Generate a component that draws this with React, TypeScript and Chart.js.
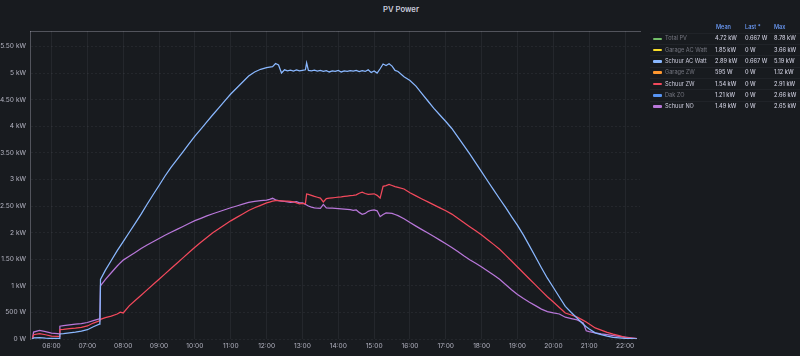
import React, { useEffect, useRef } from "react";
import { Chart, registerables } from "chart.js";

Chart.register(...registerables);

// ---------- DATA ----------
const timeLabels = [
  "05:28", "05:30", "05:40", "05:50", "06:00", "06:10", "06:13", "06:14", "06:20", "06:30", "06:40",
  "06:50", "07:00", "07:10", "07:20", "07:21", "07:22", "07:30", "07:40", "07:50", "07:55", "08:00",
  "08:10", "08:20", "08:30", "08:40", "08:50", "09:00", "09:10", "09:20", "09:30", "09:40", "09:50",
  "10:00", "10:10", "10:20", "10:30", "10:40", "10:50", "11:00", "11:10", "11:20", "11:30", "11:40", "11:50",
  "12:00", "12:05", "12:10", "12:15", "12:20", "12:25", "12:30", "12:35", "12:40", "12:45", "12:50", "12:55",
  "13:00", "13:05", "13:07",
  "13:10", "13:15", "13:20", "13:25", "13:30", "13:35", "13:40", "13:45", "13:50", "13:55",
  "14:00", "14:05", "14:10", "14:15", "14:20", "14:25", "14:30", "14:35", "14:40", "14:45", "14:50", "14:55",
  "15:00", "15:05", "15:10", "15:15", "15:20", "15:25", "15:30", "15:35", "15:40",
  "15:50",
  "16:00", "16:10", "16:20", "16:30", "16:40", "16:50",
  "17:00", "17:10", "17:20", "17:30", "17:40", "17:50",
  "18:00", "18:10", "18:20", "18:30", "18:40", "18:50",
  "19:00", "19:10", "19:20", "19:30", "19:40", "19:50",
  "20:00", "20:10", "20:20", "20:30", "20:40", "20:50", "20:55",
  "21:00", "21:10", "21:20", "21:30", "21:40", "21:50",
  "22:00", "22:10", "22:20",
];

const schuurAcWatt = [
  0, 20, 25, 15, 10, 10, 10, 95, 100, 115, 130,
  150, 175, 230, 280, 290, 1120, 1290, 1475, 1660, 1745, 1830,
  2002, 2173, 2347, 2534, 2712, 2886, 3064, 3227, 3372, 3520, 3667,
  3815, 3947, 4082, 4216, 4345, 4476, 4606, 4719, 4830, 4943, 5020, 5070,
  5100, 5110, 5120, 5180, 5150, 5000, 5060, 5040, 5055, 5035, 5060, 5040,
  5050, 5060, 5190,
  5050, 5040, 5055, 5035, 5050, 5030, 5045, 5020, 5040, 5030,
  5050, 5020, 5040, 5030, 5045, 5035, 5050, 5025, 5045, 5030, 5060, 5010,
  5040, 5000, 5080, 5170, 5140, 5175, 5130, 5050, 5030,
  4930,
  4860, 4753, 4612, 4474, 4334, 4211,
  4088, 3957, 3799, 3641, 3480, 3310,
  3140, 2970, 2804, 2636, 2473, 2300,
  2137, 1952, 1751, 1547, 1340, 1143,
  968, 790, 614, 499, 389, 277, 230,
  189, 115, 84, 55, 30, 20,
  12, 6, 2,
];

const schuurZw = [
  0, 80, 100, 80, 55, 50, 50, 175, 180, 195, 205,
  220, 245, 300, 340, 350, 370, 400, 430, 470, 505, 490,
  623, 722, 823, 924, 1024, 1123, 1224, 1325, 1424, 1525, 1625,
  1724, 1817, 1910, 1996, 2071, 2146, 2221, 2287, 2351, 2416, 2467, 2513,
  2560, 2575, 2590, 2600, 2600, 2595, 2590, 2590, 2588, 2580, 2560, 2540,
  2550, 2545, 2726,
  2720, 2700, 2680, 2665, 2650, 2576, 2640, 2650, 2655, 2660,
  2665, 2670, 2680, 2688, 2694, 2700, 2710, 2740, 2760, 2735, 2720, 2725,
  2730, 2700, 2650, 2870, 2885, 2905, 2885, 2865, 2850,
  2820,
  2750, 2690, 2633, 2578, 2521, 2465,
  2410, 2348, 2269, 2190, 2112, 2034,
  1955, 1868, 1779, 1688, 1577, 1467,
  1354, 1241, 1128, 1017, 904, 795,
  694, 591, 489, 451, 410, 350, 320,
  283, 208, 167, 126, 90, 65,
  32, 15, 5,
];

const schuurNo = [
  0, 130, 160, 140, 110, 100, 95, 240, 250, 265, 280,
  290, 310, 345, 380, 390, 1000, 1118, 1245, 1373, 1430, 1483,
  1556, 1627, 1700, 1767, 1829, 1889, 1950, 2007, 2061, 2116, 2171,
  2225, 2269, 2314, 2355, 2392, 2430, 2467, 2500, 2534, 2568, 2586, 2599,
  2612, 2625, 2645, 2615, 2600, 2592, 2585, 2578, 2570, 2575, 2580, 2560,
  2560, 2530, 2520,
  2500, 2480, 2465, 2458, 2455, 2530, 2465, 2460, 2458, 2455,
  2450, 2445, 2440, 2435, 2430, 2420, 2425, 2380, 2345, 2360, 2400, 2420,
  2425, 2410, 2300, 2340, 2370, 2365, 2360, 2340, 2320,
  2260,
  2190, 2122, 2056, 1992, 1926, 1859,
  1791, 1722, 1643, 1564, 1491, 1423,
  1355, 1280, 1202, 1123, 1025, 926,
  836, 760, 692, 628, 562, 515,
  490, 470, 410, 385, 360, 300, 155,
  140, 115, 95, 80, 65, 50,
  35, 20, 5,
];

const xTickLabels = [
  "06:00", "07:00", "08:00", "09:00", "10:00", "11:00", "12:00", "13:00", "14:00",
  "15:00", "16:00", "17:00", "18:00", "19:00", "20:00", "21:00", "22:00",
];

const yTickValues = [0, 500, 1000, 1500, 2000, 2500, 3000, 3500, 4000, 4500, 5000, 5500];
const yTickLabels = [
  "0 W", "500 W", "1 kW", "1.50 kW", "2 kW", "2.50 kW", "3 kW", "3.50 kW", "4 kW", "4.50 kW", "5 kW", "5.50 kW",
];

const legendNames = ["Total PV", "Garage AC Watt", "Schuur AC Watt", "Garage ZW", "Schuur ZW", "Dak ZO", "Schuur NO"];
const legendColors = ["#73BF69", "#FADE2A", "#8AB8FF", "#FF9830", "#F2495C", "#5794F2", "#B877D9"];
const legendVisible = [false, false, true, false, true, false, true];
const meanValues = ["4.72 kW", "1.85 kW", "2.89 kW", "595 W", "1.54 kW", "1.21 kW", "1.49 kW"];
const lastValues = ["0.667 W", "0 W", "0.667 W", "0 W", "0 W", "0 W", "0 W"];
const maxValues = ["8.78 kW", "3.66 kW", "5.19 kW", "1.12 kW", "2.91 kW", "2.66 kW", "2.65 kW"];
const legendHeaders = ["Mean", "Last *", "Max"];

const chartTitle = "PV Power";

// ---------- HELPERS ----------
const toMin = (s: string) => parseInt(s.slice(0, 2), 10) * 60 + parseInt(s.slice(3), 10);
const times = timeLabels.map(toMin);
const xTickValues = xTickLabels.map(toMin);

const X_MIN = 324;
const X_MAX = 1345;
const Y_MAX = 5790;

const FONT = "Inter, 'Noto Sans', 'DejaVu Sans', sans-serif";
const TEXT = "#ccccdc";
const AXIS_TEXT = "rgba(204,204,220,0.85)";
const GRID = "rgba(204,204,220,0.07)";
const DASH = "rgba(204,204,220,0.32)";
const BG = "#181b1f";
const LEGEND_FONT = 5.6;

const plotted = [
  { name: "Schuur AC Watt", values: schuurAcWatt, color: legendColors[2] },
  { name: "Schuur ZW", values: schuurZw, color: legendColors[4] },
  { name: "Schuur NO", values: schuurNo, color: legendColors[6] },
];

export default function App() {
  const canvasRef = useRef<HTMLCanvasElement | null>(null);

  useEffect(() => {
    if (!canvasRef.current) return;
    const chart = new Chart(canvasRef.current, {
      type: "line",
      data: {
        datasets: plotted.map((s) => ({
          label: s.name,
          data: times.map((t, i) => ({ x: t, y: s.values[i] })),
          borderColor: s.color,
          backgroundColor: s.color,
          borderWidth: 1.25,
          pointRadius: 0,
          tension: 0,
          fill: false,
        })),
      },
      options: {
        animation: false,
        responsive: false,
        maintainAspectRatio: false,
        layout: { padding: { top: 31, right: 2, left: 0, bottom: 0 } },
        plugins: {
          legend: { display: false },
          tooltip: { enabled: false },
          title: { display: false },
        },
        scales: {
          x: {
            type: "linear",
            min: X_MIN,
            max: X_MAX,
            afterBuildTicks: (axis: any) => {
              axis.ticks = xTickValues.map((v) => ({ value: v }));
            },
            afterFit: (axis: any) => {
              axis.height = 17;
            },
            ticks: {
              callback: (_v: any, i: number) => xTickLabels[i],
              color: AXIS_TEXT,
              font: { size: 6.6, family: FONT },
              padding: 3,
              maxRotation: 0,
              autoSkip: false,
            },
            grid: { color: GRID, drawTicks: false },
            border: { display: false },
          },
          xTop: {
            type: "linear",
            position: "top",
            min: X_MIN,
            max: X_MAX,
            afterFit: (axis: any) => {
              axis.height = 0;
            },
            ticks: { display: false },
            grid: { display: false, drawTicks: false },
            border: { display: true, dash: [2, 2], color: DASH, width: 1 },
          },
          y: {
            type: "linear",
            min: 0,
            max: Y_MAX,
            afterBuildTicks: (axis: any) => {
              axis.ticks = yTickValues.map((v) => ({ value: v }));
            },
            afterFit: (axis: any) => {
              axis.width = 30;
            },
            ticks: {
              callback: (_v: any, i: number) => yTickLabels[i],
              color: AXIS_TEXT,
              font: { size: 6.6, family: FONT },
              padding: 4,
              autoSkip: false,
            },
            grid: { color: GRID, drawTicks: false },
            border: { display: true, dash: [2, 2], color: DASH, width: 1 },
          },
        },
      } as any,
    });
    return () => chart.destroy();
  }, []);

  const cell = (left: number, top: number, text: string, color: string, weight = 500) => (
    <div
      key={`${left}-${top}-${text}`}
      style={{
        position: "absolute",
        left,
        top,
        height: 11,
        lineHeight: "11px",
        fontSize: LEGEND_FONT,
        fontWeight: weight,
        color,
        whiteSpace: "nowrap",
        fontFamily: FONT,
      }}
    >
      {text}
    </div>
  );

  const headerTop = 22;
  const rowTop0 = 33.2;
  const rowH = 11.33;

  return (
    <div
      style={{
        position: "fixed",
        left: 0,
        top: 0,
        width: 800,
        height: 356,
        background: BG,
        overflow: "hidden",
        fontFamily: FONT,
      }}
    >
      <div
        style={{
          position: "absolute",
          left: 0,
          top: 4,
          width: 802,
          textAlign: "center",
          fontSize: 7.7,
          lineHeight: "12px",
          fontWeight: 600,
          color: TEXT,
        }}
      >
        {chartTitle}
      </div>
      <canvas
        ref={canvasRef}
        width={642}
        height={356}
        style={{ position: "absolute", left: 0, top: 0, width: 642, height: 356 }}
      />
      <div style={{ position: "absolute", left: 0, top: 0, width: 800, height: 356 }}>
        {cell(716, headerTop, legendHeaders[0], "#6E9FFF", 500)}
        {cell(745, headerTop, legendHeaders[1], "#6E9FFF", 500)}
        {cell(774, headerTop, legendHeaders[2], "#6E9FFF", 500)}
        {legendNames.map((name, i) => {
          const top = rowTop0 + i * rowH;
          return (
            <React.Fragment key={name}>
              <div
                style={{
                  position: "absolute",
                  left: 653,
                  top: top + 4.3,
                  width: 9,
                  height: 2.5,
                  borderRadius: 1,
                  background: legendColors[i],
                }}
              />
              {cell(665, top, name, legendVisible[i] ? TEXT : "rgba(204,204,220,0.5)", 400)}
              {cell(715, top, meanValues[i], TEXT)}
              {cell(745, top, lastValues[i], TEXT)}
              {cell(774, top, maxValues[i], TEXT)}
              <div
                style={{
                  position: "absolute",
                  left: 650,
                  top: top - 0.5,
                  width: 150,
                  height: 1,
                  background: "rgba(204,204,220,0.05)",
                }}
              />
            </React.Fragment>
          );
        })}
      </div>
    </div>
  );
}
